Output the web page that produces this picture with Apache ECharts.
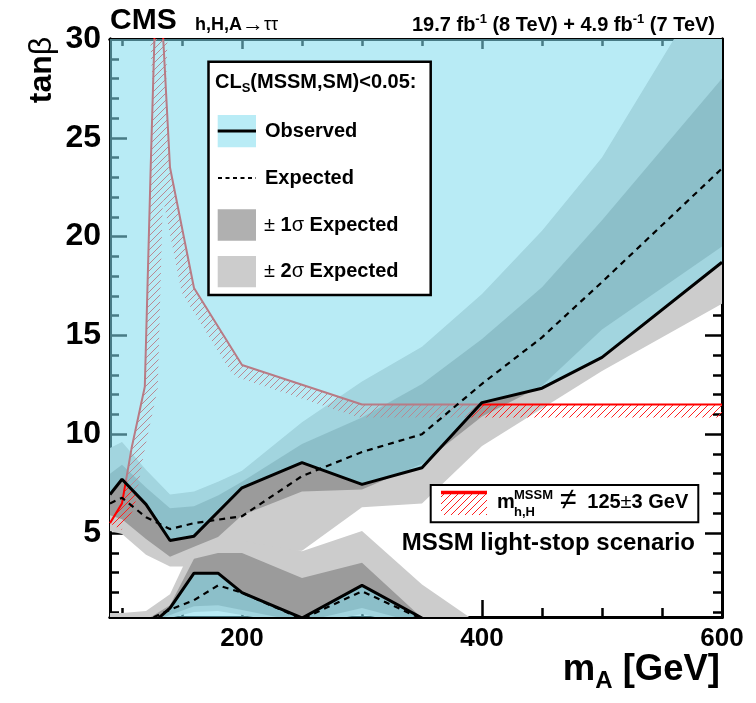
<!DOCTYPE html>
<html><head><meta charset="utf-8">
<script src="https://cdn.jsdelivr.net/npm/echarts@6/dist/echarts.min.js"></script>
<style>html,body{margin:0;padding:0;background:#fff}#c{width:756px;height:703px}</style>
</head><body><div id="c"></div>
<script>
// ---------------- data ----------------
const xMin = 90, xMax = 600, yMin = 0.75, yMax = 30;
const xMajorTicks = [200, 400, 600];
const xMinorTicks = [100, 150, 250, 300, 350, 450, 500, 550];
const xTickLabels = ['200', '400', '600'];
const yMajorTicks = [5, 10, 15, 20, 25, 30];
const yMinorTicks = [1, 2, 3, 4, 6, 7, 8, 9, 11, 12, 13, 14, 16, 17, 18, 19, 21, 22, 23, 24, 26, 27, 28, 29];
const yTickLabels = ['5', '10', '15', '20', '25', '30'];

// observed / expected upper exclusion contour (mA, tanb)
const obsUpperX = [90, 100, 120, 140, 160, 200, 250, 300, 350, 400, 450, 500, 600];
const obsUpperY = [6.95, 7.72, 6.45, 4.62, 4.84, 7.29, 8.56, 7.46, 8.3, 11.6, 12.33, 13.89, 18.7];
const expUpperX = [90, 100, 120, 140, 160, 200, 250, 300, 350, 400, 450, 500, 600];
const expUpperY = [6.5, 6.78, 5.8, 5.2, 5.5, 5.85, 7.88, 9.1, 10.0, 12.55, 14.9, 17.7, 23.45];

// expected bands of the upper contour
const upBandX   = [90, 100, 120, 140, 160, 180, 200, 250, 300, 350, 400, 450, 500, 600];
const up2sigHi  = [9.3, 9.6, 8.2, 6.95, 7.1, 7.6, 8.15, 10.6, 12.67, 14.43, 17.1, 20.3, 24.0, 34.0];
const up1sigHi  = [8.0, 8.45, 7.3, 6.25, 6.35, 6.9, 7.6, 9.5, 10.84, 12.54, 14.82, 17.44, 20.83, 28.0];
const up1sigLo  = [5.9, 5.7, 4.7, 3.8, 4.3, 4.8, 5.9, 7.1, 7.2, 8.5, 10.9, 12.45, 15.3, 19.5];
const up2sigLo  = [5.1, 4.95, 3.9, 3.3, 3.3, 3.6, 4.0, 4.1, 6.3, 6.5, 9.4, 11.3, 13.2, 16.6];

// observed / expected lower exclusion contour
const obsLowerX = [125, 140, 160, 180, 200, 250, 300, 350];
const obsLowerY = [0.4, 1.2, 2.97, 2.97, 1.98, 0.7, 2.35, 0.7];
const expLowerX = [118, 140, 160, 180, 200, 250, 300, 350];
const expLowerY = [0.5, 1.12, 1.6, 2.35, 1.98, 0.65, 2.05, 0.65];

// expected bands of the lower contour
const lowBandX  = [90, 100, 120, 140, 160, 180, 200, 250, 300, 350, 400];
const lo2sigHi  = [0.95, 0.95, 1.05, 1.9, 4.5, 4.6, 4.6, 4.08, 5.1, 2.4, 0.3];
const lo1sigHi  = [0.5, 0.5, 0.6, 1.35, 3.7, 3.99, 3.99, 2.72, 3.5, 0.7, 0.2];
const lo1sigLo  = [0.3, 0.3, 0.4, 0.85, 1.3, 1.35, 1.1, 0.5, 1.2, 0.4, 0.1];
const lo2sigLo  = [0.2, 0.2, 0.3, 0.7, 1.0, 1.05, 0.85, 0.3, 0.9, 0.2, 0.05];

// m_h,H != 125 +- 3 GeV contour
const mhX = [90, 100, 108, 119, 124, 127.5, 133.5, 140, 160, 200, 300, 600];
const mhY = [5.5, 6.5, 9.3, 12.4, 23.7, 31, 31, 23.5, 17.4, 13.5, 11.5, 11.5];

// ---------------- helpers ----------------
const FONT = "'Liberation Sans', Arial, Helvetica, 'DejaVu Sans', sans-serif";
const fnt = (s, b) => (b ? 'bold ' : '') + s + 'px ' + FONT;
const mctx = document.createElement('canvas').getContext('2d');
const measure = (t, f) => { mctx.font = f; return mctx.measureText(t).width; };
function run(parts, x, y, align) {
  const total = parts.reduce((s, p) => s + measure(p[0], fnt(p[1], p[2])), 0);
  let cx = align === 'right' ? x - total : (align === 'center' ? x - total / 2 : x);
  return parts.map(p => {
    const el = { type: 'text', x: cx, y: y + (p[3] || 0), z: 100,
      style: { text: p[0], font: fnt(p[1], p[2]), fill: '#000', textAlign: 'left', textVerticalAlign: 'middle' } };
    cx += measure(p[0], fnt(p[1], p[2]));
    return el;
  });
}
const zip = (xs, ys) => xs.map((x, i) => [x, ys[i]]);
const band = (xs, hi, lo) => zip(xs, hi).concat(zip(xs, lo).reverse());

// hatch pattern
const hatch = document.createElement('canvas');
hatch.width = 7; hatch.height = 7;
(function () {
  const c = hatch.getContext('2d');
  c.strokeStyle = '#ff2020'; c.lineWidth = 1;
  c.beginPath();
  c.moveTo(0, 7); c.lineTo(7, 0);
  c.moveTo(-1, 1); c.lineTo(1, -1);
  c.moveTo(6, 8); c.lineTo(8, 6);
  c.stroke();
})();
const hatchFill = { image: hatch, repeat: 'repeat' };

function polySeries(polys, fill, z) {
  return {
    type: 'custom', z: z, clip: true, silent: true,
    data: polys.flat(),
    renderItem: (params, api) => {
      if (params.dataIndex !== 0) return null;
      return { type: 'group', children: polys.map(poly => ({
        type: 'polygon', shape: { points: poly.map(p => api.coord(p)) }, style: { fill: fill } })) };
    }
  };
}

const blueFill = 'rgba(128,220,238,0.56)';
const light = '#cccccc', dark = '#9b9b9b';

const series = [
  polySeries([band(upBandX, up2sigHi, up2sigLo), band(lowBandX, lo2sigHi, lo2sigLo)], light, 1),
  polySeries([band(upBandX, up1sigHi, up1sigLo), band(lowBandX, lo1sigHi, lo1sigLo)], dark, 2),
  {
    type: 'custom', z: 3, clip: true, silent: true,
    data: zip(mhX, mhY),
    renderItem: (params, api) => {
      if (params.dataIndex !== 0) return null;
      const P = zip(mhX, mhY).map(p => api.coord(p));
      const W = 13, ch = [], N = [];
      for (let i = 0; i < P.length - 1; i++) {
        const dx = P[i + 1][0] - P[i][0], dy = P[i + 1][1] - P[i][1];
        const L = Math.hypot(dx, dy) || 1;
        const n = [-dy / L * W, dx / L * W];
        N.push(n);
        ch.push({ type: 'polygon', shape: { points: [P[i], P[i + 1],
          [P[i + 1][0] + n[0], P[i + 1][1] + n[1]], [P[i][0] + n[0], P[i][1] + n[1]]] }, style: { fill: hatchFill } });
      }
      for (let i = 1; i < P.length - 1; i++) {
        const a = N[i - 1], b = N[i];
        ch.push({ type: 'polygon', shape: { points: [P[i], [P[i][0] + a[0], P[i][1] + a[1]], [P[i][0] + b[0], P[i][1] + b[1]]] }, style: { fill: hatchFill } });
      }
      return { type: 'group', children: ch };
    }
  },
  { type: 'line', z: 4, data: zip(mhX, mhY), symbol: 'none', silent: true, lineStyle: { color: '#ff0000', width: 2 } },
  polySeries([
    zip(obsUpperX, obsUpperY).concat([[xMax, yMax + 5], [xMin, yMax + 5]]),
    zip(obsLowerX, obsLowerY).concat([[obsLowerX[obsLowerX.length - 1], yMin - 1], [obsLowerX[0], yMin - 1]])
  ], blueFill, 5),
  { type: 'line', z: 6, data: zip(expUpperX, expUpperY), symbol: 'none', silent: true, lineStyle: { color: '#000', width: 2.2, type: [6, 5] } },
  { type: 'line', z: 6, data: zip(expLowerX, expLowerY), symbol: 'none', silent: true, lineStyle: { color: '#000', width: 2.2, type: [6, 5] } },
  { type: 'line', z: 7, data: zip(obsUpperX, obsUpperY), symbol: 'none', silent: true, lineStyle: { color: '#000', width: 3 } },
  { type: 'line', z: 7, data: zip(obsLowerX, obsLowerY), symbol: 'none', silent: true, lineStyle: { color: '#000', width: 3 } }
];

function xAx(pos, ticks, len, labels) {
  return { type: 'value', min: xMin, max: xMax, position: pos,
    axisLine: { show: true, onZero: false, lineStyle: { color: '#000', width: 3 } },
    axisTick: { show: true, inside: true, length: len, customValues: ticks, lineStyle: { color: '#000', width: 2.5 } },
    axisLabel: labels ? { show: true, margin: 9, customValues: ticks, fontSize: 26, fontWeight: 'bold', color: '#000', fontFamily: FONT,
      formatter: v => xTickLabels[xMajorTicks.indexOf(v)] } : { show: false },
    splitLine: { show: false } };
}
function yAx(pos, ticks, len, labels) {
  return { type: 'value', min: yMin, max: yMax, position: pos,
    axisLine: { show: true, onZero: false, lineStyle: { color: '#000', width: 3 } },
    axisTick: { show: true, inside: true, length: len, customValues: ticks, lineStyle: { color: '#000', width: 2.5 } },
    axisLabel: labels ? { show: true, margin: 9, customValues: ticks, fontSize: 32, fontWeight: 'bold', color: '#000', fontFamily: FONT,
      formatter: v => yTickLabels[yMajorTicks.indexOf(v)] } : { show: false },
    splitLine: { show: false } };
}

// ---------------- decorations ----------------
const g = [];
// legend 1
g.push({ type: 'rect', z: 100, shape: { x: 208.5, y: 61.7, width: 222.2, height: 233.3 }, style: { fill: '#fff', stroke: '#000', lineWidth: 2.5 } });
g.push(...run([['CL', 20, true, 0], ['S', 13, true, 6], ['(MSSM,SM)<0.05:', 20, true, 0]], 215, 82));
g.push({ type: 'rect', z: 100, shape: { x: 217.7, y: 115, width: 38.3, height: 32.3 }, style: { fill: '#b9ecf6' } });
g.push({ type: 'line', z: 101, shape: { x1: 217.7, y1: 131, x2: 256, y2: 131 }, style: { stroke: '#000', lineWidth: 3 } });
g.push(...run([['Observed', 20, true]], 265, 131));
g.push({ type: 'line', z: 101, shape: { x1: 218, y1: 178, x2: 256, y2: 178 }, style: { stroke: '#000', lineWidth: 2, lineDash: [4, 3.5] } });
g.push(...run([['Expected', 20, true]], 265, 178));
g.push({ type: 'rect', z: 100, shape: { x: 217.7, y: 209.3, width: 38.3, height: 31.4 }, style: { fill: '#b0b0b0' } });
g.push(...run([['±', 20, false], [' 1', 20, true], ['σ', 20, false], [' Expected', 20, true]], 264, 225));
g.push({ type: 'rect', z: 100, shape: { x: 217.7, y: 256, width: 38.3, height: 31.3 }, style: { fill: '#cccccc' } });
g.push(...run([['±', 20, false], [' 2', 20, true], ['σ', 20, false], [' Expected', 20, true]], 264, 271));
// legend 2
g.push({ type: 'rect', z: 100, shape: { x: 430.7, y: 485, width: 267.6, height: 37.3 }, style: { fill: '#fff', stroke: '#000', lineWidth: 2 } });
g.push({ type: 'rect', z: 101, shape: { x: 441, y: 494, width: 46, height: 21 }, style: { fill: hatchFill } });
g.push({ type: 'line', z: 102, shape: { x1: 441, y1: 492.5, x2: 487, y2: 492.5 }, style: { stroke: '#ff0000', lineWidth: 3.5 } });
g.push(...run([['m', 20, true]], 497, 502));
g.push(...run([['MSSM', 13, true]], 514, 495));
g.push(...run([['h,H', 13, true]], 514, 512.5));
g.push(...run([['≠', 30, false]], 560, 501));
g.push(...run([['125', 20, true], ['±', 20, false], ['3 GeV', 20, true]], 688.3, 502, 'right'));
g.push(...run([['MSSM light-stop scenario', 24, true]], 695, 543, 'right'));
// header
g.push(...run([['CMS', 30, true]], 110, 21));
g.push(...run([['h,H,A', 18, true], ['→', 22, false], ['ττ', 18, false]], 195, 25));
g.push(...run([['19.7 fb', 20, true], ['-1', 13, true, -6], [' (8 TeV) + 4.9 fb', 20, true], ['-1', 13, true, -6], [' (7 TeV)', 20, true]], 715, 25, 'right'));
// axis titles
g.push({ type: 'text', x: 42, y: 70, rotation: Math.PI / 2, z: 100,
  style: { text: '{a|tan}{b|β}', rich: { a: { font: fnt(32, true) }, b: { font: fnt(32, false) } }, fill: '#000', textAlign: 'center', textVerticalAlign: 'middle' } });
g.push(...run([['m', 36.5, true, 0], ['A', 24, true, 11], [' [GeV]', 36.5, true, 0]], 720, 670, 'right'));

const chart = echarts.init(document.getElementById('c'));
chart.setOption({
  animation: false,
  backgroundColor: '#fff',
  grid: { left: 110, right: 34, top: 39, bottom: 86 },
  xAxis: [xAx('bottom', xMajorTicks, 17, true), xAx('bottom', xMinorTicks, 9, false),
          xAx('top', xMajorTicks, 10, false), xAx('top', xMinorTicks, 7, false)],
  yAxis: [yAx('left', yMajorTicks, 17, true), yAx('left', yMinorTicks, 9, false),
          yAx('right', yMajorTicks, 17, false), yAx('right', yMinorTicks, 9, false)],
  series: series,
  graphic: g
});
</script>
</body></html>
